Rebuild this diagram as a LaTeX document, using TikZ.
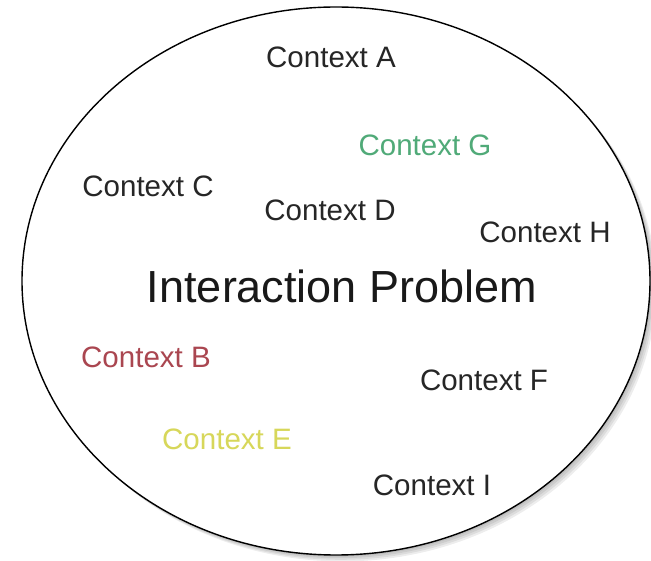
\documentclass[tikz,border=0pt]{standalone}
\usepackage{fontspec}
\setmainfont{Liberation Sans}

\definecolor{ctxgreen}{RGB}{80,170,120}
\definecolor{ctxred}{RGB}{170,70,80}
\definecolor{ctxyellow}{RGB}{215,215,90}

\begin{document}
\begin{tikzpicture}[
                every node/.style={inner sep=1pt},
                ctx/.style={font=\fontsize{21}{24}\selectfont, text=black!85},
                problem/.style={font=\fontsize{32}{36}\selectfont, text=black!90}
            ]
            \useasboundingbox (0, 0) rectangle (16.275, 14.025);

            % soft shadow
            \foreach \s in {0.04, 0.08, 0.12, 0.16} {
                \fill[black, opacity=0.07] (8.4 + \s, 7.0 - \s) ellipse [x radius=7.85, y radius=6.85];
            }

            % the problem space
            \draw[line width=1pt, fill=white] (8.4, 7.0) ellipse [x radius=7.85, y radius=6.85];

            \node[problem] (problem) at (8.55, 6.875) {Interaction Problem};

            % contexts
            \node[ctx] (ctxA) at (8.275, 12.6) {Context A};
            \node[ctx, text=ctxgreen] (ctxG) at (10.625, 10.4) {Context G};
            \node[ctx] (ctxC) at (3.7, 9.375) {Context C};
            \node[ctx] (ctxD) at (8.25, 8.775) {Context D};
            \node[ctx] (ctxH) at (13.625, 8.225) {Context H};
            \node[ctx, text=ctxred] (ctxB) at (3.65, 5.1) {Context B};
            \node[ctx] (ctxF) at (12.1, 4.525) {Context F};
            \node[ctx, text=ctxyellow] (ctxE) at (5.675, 3.05) {Context E};
            \node[ctx] (ctxI) at (10.8, 1.9) {Context I};
        \end{tikzpicture}
\end{document}
